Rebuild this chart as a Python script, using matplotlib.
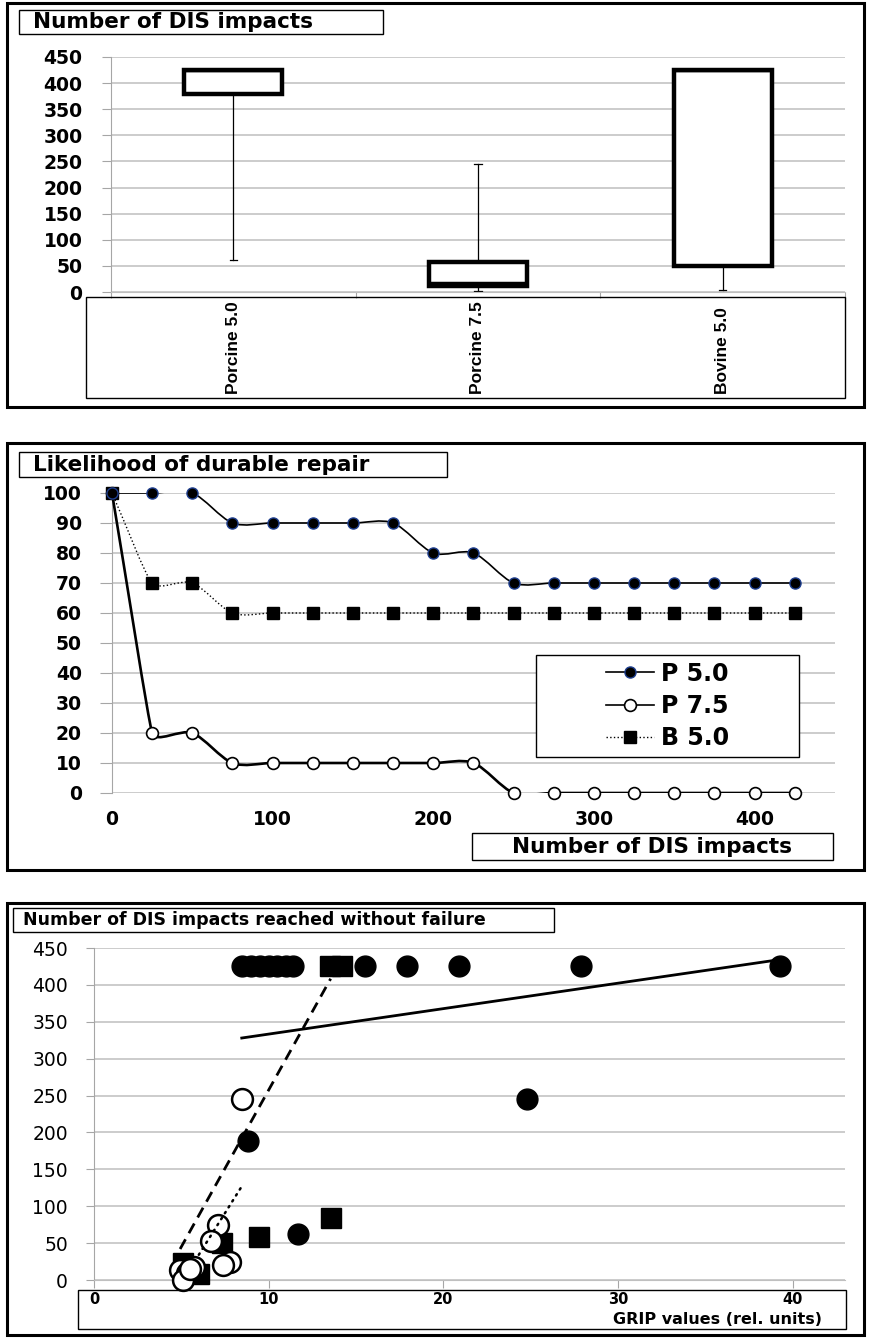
import numpy as np
import matplotlib
matplotlib.use('Agg')
import matplotlib.pyplot as plt
from matplotlib.patches import Rectangle, PathPatch
from matplotlib.path import Path
from matplotlib.lines import Line2D
from matplotlib.transforms import blended_transform_factory

W, H = 870, 1339
GRID = '#bfbfbf'
AXC = '#a6a6a6'

# ---- panel 1: box plot of DIS impacts
categories = ['Porcine 5.0', 'Porcine 7.5', 'Bovine 5.0']
q1 = [380, 12, 50]
q3 = [425, 57, 425]
med = [425, 17, 425]
whis_lo = [62, 1, 4]
whis_hi = [425, 246, 425]
ticks_dis = [0, 50, 100, 150, 200, 250, 300, 350, 400, 450]

# ---- panel 2: likelihood of durable repair
impacts = [0, 25, 50, 75, 100, 125, 150, 175, 200, 225, 250, 275, 300, 325, 350, 375, 400, 425]
p50 = [100, 100, 100, 90, 90, 90, 90, 90, 80, 80, 70, 70, 70, 70, 70, 70, 70, 70]
p75 = [100, 20, 20, 10, 10, 10, 10, 10, 10, 10, 0, 0, 0, 0, 0, 0, 0, 0]
b50 = [100, 70, 70, 60, 60, 60, 60, 60, 60, 60, 60, 60, 60, 60, 60, 60, 60, 60]
ticks_pct = [0, 10, 20, 30, 40, 50, 60, 70, 80, 90, 100]
ticks_imp = [0, 100, 200, 300, 400]

# ---- panel 3: GRIP vs impacts reached
p50_grip = [8.5, 9.0, 9.5, 10.0, 10.5, 11.0, 11.4, 15.5, 17.9, 20.9, 27.9, 39.3, 24.8, 8.8, 11.7]
p50_dis = [425, 425, 425, 425, 425, 425, 425, 425, 425, 425, 425, 425, 245, 189, 62]
p75_grip = [8.5, 7.1, 6.7, 7.8, 7.4, 4.9, 5.3, 5.1, 5.7, 5.5]
p75_dis = [246, 75, 53, 24, 20, 13, 10, 0, 18, 15]
b50_grip = [13.5, 14.2, 13.55, 9.45, 7.35, 5.1, 6.0]
b50_dis = [425, 425, 84, 58, 50, 23, 8]
# linear trend lines: slope, intercept, x range
trend_slope = [3.45, 37.7, 42.5]
trend_icpt = [298.8, -192.0, -167.5]
trend_x0 = [8.46, 6.0, 4.93]
trend_x1 = [39.2, 8.55, 13.55]
ticks_grip = [0, 10, 20, 30, 40]

fig = plt.figure(figsize=(W / 100, H / 100), dpi=100)
fig.patch.set_facecolor('white')


def rect(l, t, r, b):
    return [l / W, 1 - b / H, (r - l) / W, (b - t) / H]


def frame(l, t, r, b, lw=1.0, fc='none', z=5):
    fig.add_artist(Rectangle((l / W, 1 - b / H), (r - l) / W, (b - t) / H,
                             transform=fig.transFigure, fc=fc, ec='black', lw=lw, zorder=z))


def ftext(x, y, s, **kw):
    fig.text(x / W, 1 - y / H, s, zorder=10, **kw)


def smooth(ax, x, y):
    # excel-like smoothed line: bezier whose tangents shrink next to short segments
    pts = np.column_stack([x, y]).astype(float)
    scr = ax.transData.transform(pts)
    n = len(pts)
    seg = np.hypot(*np.diff(scr, axis=0).T)
    tan = np.zeros_like(pts)
    for i in range(1, n - 1):
        a, b = seg[i - 1], seg[i]
        tan[i] = (pts[i + 1] - pts[i - 1]) * min(a, b) / (a + b) / 3
    verts = [pts[0]]
    codes = [Path.MOVETO]
    for i in range(n - 1):
        c1 = pts[i] + tan[i] if i > 0 else pts[i] + (pts[i + 1] - pts[i]) / 3
        c2 = pts[i + 1] - tan[i + 1] if i + 1 < n - 1 else pts[i + 1] - (pts[i + 1] - pts[i]) / 3
        verts += [c1, c2, pts[i + 1]]
        codes += [Path.CURVE4] * 3
    return Path(verts, codes)


def style_axes(ax):
    for s in ['top', 'right']:
        ax.spines[s].set_visible(False)
    ax.spines['left'].set_color(AXC)
    ax.spines['bottom'].set_color(GRID)
    ax.grid(axis='y', color=GRID, lw=1.1)
    ax.set_axisbelow(True)


BOLD = dict(family='DejaVu Sans', weight='bold')

# panel frames
frame(7, 3, 864, 407, lw=2.2)
frame(7, 443, 864, 870, lw=2.2)
frame(7, 903, 864, 1335, lw=2.2)

# ================= panel 1
ax1 = fig.add_axes(rect(111, 57, 845, 292))
style_axes(ax1)
stats = [dict(q1=q1[i], q3=q3[i], med=med[i], whislo=whis_lo[i], whishi=whis_hi[i], label=categories[i])
         for i in range(3)]
ax1.bxp(stats, positions=[0.5, 1.5, 2.5], widths=0.4, showfliers=False, patch_artist=True,
        boxprops=dict(fc='white', ec='black', lw=3.2), medianprops=dict(color='black', lw=2.5),
        whiskerprops=dict(color='black', lw=0.9), capprops=dict(color='black', lw=0.9),
        capwidths=0.03, manage_ticks=False)
ax1.set_xlim(0, 3)
ax1.set_ylim(0, 450)
ax1.set_yticks(ticks_dis)
ax1.set_xticks([0, 1, 2, 3])
ax1.set_xticklabels([])
ax1.tick_params(axis='y', length=6.5, color=AXC, pad=14, labelsize=13.5)
ax1.tick_params(axis='x', length=4, color=AXC)
for lab in ax1.get_yticklabels():
    lab.set_fontweight('bold')
frame(86, 297, 845, 398, lw=1.0)
trans = blended_transform_factory(ax1.transData, fig.transFigure)
for i, c in enumerate(categories):
    ax1.text(i + 0.5, 1 - 394 / H, c, transform=trans, rotation=90, ha='center', va='bottom',
             fontsize=12.5, fontweight='bold', family=['Liberation Sans Narrow', 'Liberation Sans'])
frame(19, 10, 383, 34, lw=1.0, fc='white')
ftext(33, 22, 'Number of DIS impacts', va='center', ha='left', fontsize=15.5, **BOLD)

# ================= panel 2
ax2 = fig.add_axes(rect(112, 493, 835, 793))
style_axes(ax2)
ax2.set_xlim(0, 450)
ax2.set_ylim(0, 100)
ax2.set_yticks(ticks_pct)
ax2.set_xticks(ticks_imp)
ax2.tick_params(axis='y', length=8.6, color=AXC, pad=13, labelsize=13.5)
ax2.tick_params(axis='x', length=0, pad=12, labelsize=13.5)
for lab in ax2.get_yticklabels() + ax2.get_xticklabels():
    lab.set_fontweight('bold')
ax2.spines['bottom'].set_visible(False)

ax2.add_patch(PathPatch(smooth(ax2, impacts, b50), fill=False, ec='black', lw=1.0, ls=':', zorder=3))
ax2.add_patch(PathPatch(smooth(ax2, impacts, p75), fill=False, ec='black', lw=1.9, zorder=3))
ax2.add_patch(PathPatch(smooth(ax2, impacts, p50), fill=False, ec='black', lw=1.2, zorder=3))
ax2.plot(impacts, b50, ls='none', marker='s', ms=8, mfc='black', mec='black', zorder=4, clip_on=False)
ax2.plot(impacts, p75, ls='none', marker='o', ms=8.5, mfc='white', mec='black', mew=1.2, zorder=4, clip_on=False)
ax2.plot(impacts, p50, ls='none', marker='o', ms=8, mfc='black', mec='#1f3f8f', mew=1.0, zorder=5, clip_on=False)

handles = [Line2D([], [], color='black', lw=1.2, marker='o', ms=8, mfc='black', mec='#1f3f8f'),
           Line2D([], [], color='black', lw=1.2, marker='o', ms=8.5, mfc='white', mec='black', mew=1.2),
           Line2D([], [], color='black', lw=1.0, ls=':', marker='s', ms=8, mfc='black', mec='black')]
frame(536, 655, 799, 757, lw=1.0, fc='white', z=6)
fig.legend(handles, ['P 5.0', 'P 7.5', 'B 5.0'], loc='center',
           bbox_to_anchor=((536 + 799) / 2 / W, 1 - (655 + 757) / 2 / H),
           frameon=False, prop=dict(family='DejaVu Sans', weight='bold', size=17),
           handlelength=2.0, handletextpad=0.3, labelspacing=0.35).set_zorder(7)
frame(19, 452, 447, 477, lw=1.0, fc='white')
ftext(33, 465, 'Likelihood of durable repair', va='center', ha='left', fontsize=15.5, **BOLD)
frame(472, 833, 833, 860, lw=1.0, fc='white')
ftext((472 + 833) / 2, 847, 'Number of DIS impacts', va='center', ha='center', fontsize=15.5, **BOLD)

# ================= panel 3
ax3 = fig.add_axes(rect(94, 948, 845, 1280))
style_axes(ax3)
ax3.set_xlim(0, 43)
ax3.set_ylim(0, 450)
ax3.set_yticks(ticks_dis)
ax3.set_xticks(ticks_grip)
ax3.tick_params(axis='y', length=5.8, color=AXC, pad=13, labelsize=13.5)
ax3.tick_params(axis='x', length=5.8, color=AXC, pad=2.5, labelsize=10.5)
for lab in ax3.get_xticklabels():
    lab.set_fontweight('bold')

ax3.plot(b50_grip, b50_dis, ls='none', marker='s', ms=15, mfc='black', mec='black', zorder=3, clip_on=False)
ax3.plot(p75_grip, p75_dis, ls='none', marker='o', ms=15, mfc='white', mec='black', mew=1.8, zorder=4, clip_on=False)
ax3.plot(p50_grip, p50_dis, ls='none', marker='o', ms=15, mfc='black', mec='black', zorder=3, clip_on=False)
tx = np.array([trend_x0[0], trend_x1[0]])
ax3.plot(tx, trend_slope[0] * tx + trend_icpt[0], color='black', ls='-', lw=2.0, zorder=5)
tx = np.array([trend_x0[1], trend_x1[1]])
ax3.plot(tx, trend_slope[1] * tx + trend_icpt[1], color='black', lw=1.8, zorder=5,
         dashes=(0.6, 2.2), dash_capstyle='round')
tx = np.array([trend_x0[2], trend_x1[2]])
ax3.plot(tx, trend_slope[2] * tx + trend_icpt[2], color='black', lw=2.0, zorder=5, dashes=(4, 2.5))

frame(78, 1290, 846, 1329, lw=1.0)
ftext(822, 1319, 'GRIP values (rel. units)', va='center', ha='right', fontsize=11.5, **BOLD)
frame(13, 908, 554, 932, lw=1.0, fc='white')
ftext(23, 920, 'Number of DIS impacts reached without failure', va='center', ha='left', fontsize=12.5, **BOLD)

fig.savefig('out.png', dpi=100, facecolor='white')
